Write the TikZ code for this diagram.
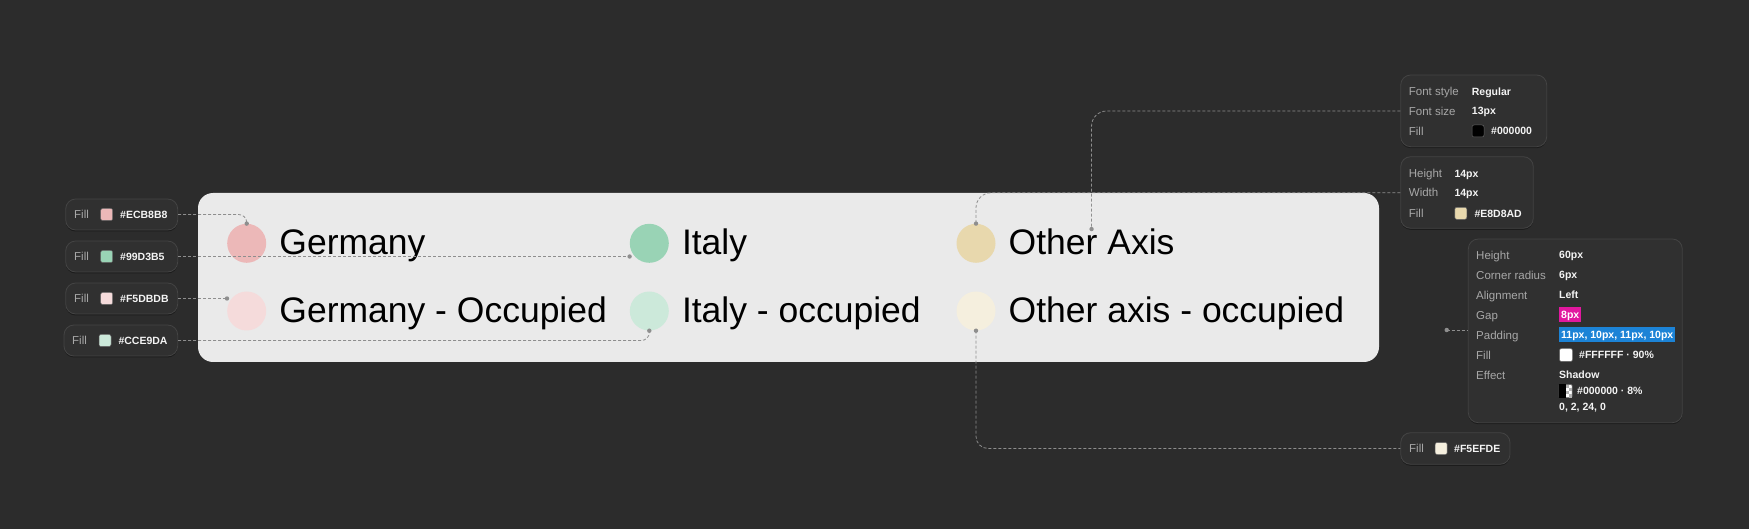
\documentclass[tikz,border=0pt]{standalone}
\usepackage{fontspec}
\setmainfont{Liberation Sans}
\usetikzlibrary{shadows}
\definecolor{bgdark}{HTML}{2C2C2C}
\definecolor{pillfill}{HTML}{303030}
\definecolor{pillline}{HTML}{444444}
\definecolor{panel}{HTML}{EAEAEA}
\definecolor{lblc}{HTML}{A8A8A8}
\definecolor{valc}{HTML}{F4F4F4}
\definecolor{dashc}{HTML}{8E8E8E}
\definecolor{ger}{HTML}{ECB8B8}
\definecolor{ita}{HTML}{99D3B5}
\definecolor{oax}{HTML}{E8D8AD}
\definecolor{gerocc}{HTML}{F5DBDB}
\definecolor{itaocc}{HTML}{CCE9DA}
\definecolor{oaxocc}{HTML}{F5EFDE}
\definecolor{gapc}{HTML}{E2189F}
\definecolor{padc}{HTML}{1C83D6}

\begin{document}
\begin{tikzpicture}[x=1pt,y=-1pt,
  pill/.style={draw=pillline,fill=pillfill,line width=0.8pt,rounded corners=10pt,inner sep=0pt,
    drop shadow={shadow xshift=0pt,shadow yshift=-1.5pt,opacity=0.35,fill=black}},
  legendbox/.style={fill=panel,rounded corners=15pt,inner sep=0pt},
  chip/.style={circle,minimum size=39pt,inner sep=0pt},
  bigtxt/.style={anchor=base west,inner sep=0pt,font=\fontsize{35.5}{40}\selectfont},
  lbl/.style={anchor=west,inner sep=0pt,text height=8.3pt,text depth=0pt,text=lblc,font=\fontsize{11.5}{14}\selectfont},
  val/.style={anchor=west,inner sep=0pt,text height=7.6pt,text depth=0pt,text=valc,font=\fontsize{10.5}{13}\selectfont\bfseries},
  hival/.style={anchor=west,inner xsep=2pt,inner ysep=3.7pt,text height=7.6pt,text depth=0pt,text=white,font=\fontsize{10.5}{13}\selectfont\bfseries},
  swatch/.style={rectangle,rounded corners=2pt,minimum size=12pt,inner sep=0pt,draw=black!60,line width=0.5pt},
  conn/.style={draw=dashc,line width=0.8pt,dash pattern=on 3pt off 2pt},
  dotfill/.style={fill=dashc}]
\fill[bgdark] (0,0) rectangle (1749,529);
\useasboundingbox (0,0) rectangle (1749,529);
% legend panel
\node[legendbox,minimum width=1181pt,minimum height=169pt] (legend) at (788.5,277.5) {};
  \node[chip,fill=ger] (gerchip) at (246.7,243.3) {};
  \node[chip,fill=ita] (itachip) at (649.3,243.3) {};
  \node[chip,fill=oax] (oaxchip) at (976,243.3) {};
  \node[chip,fill=gerocc] (geroccchip) at (246.7,311) {};
  \node[chip,fill=itaocc] (itaoccchip) at (649.3,311) {};
  \node[chip,fill=oaxocc] (oaxoccchip) at (976,311) {};
  \node[bigtxt] (gertxt) at (279.2,255) {Germany};
  \node[bigtxt] (itatxt) at (681.8,255) {Italy};
  \node[bigtxt] (oaxtxt) at (1008.5,255) {Other Axis};
  \node[bigtxt] (gerocctxt) at (279.2,322.7) {Germany - Occupied};
  \node[bigtxt] (itaocctxt) at (681.8,322.7) {Italy - occupied};
  \node[bigtxt] (oaxocctxt) at (1008.5,322.7) {Other axis - occupied};
% fill pills on the left
\node[pill,minimum width=112pt,minimum height=31pt] (fillger) at (121.7,214.5) {};
  \node[lbl] (fillgerlbl) at (74,214.5) {Fill};
  \node[swatch,fill=ger] (fillgersw) at (106.7,214.5) {};
  \node[val] (fillgerval) at (120,214.5) {\#ECB8B8};
\node[pill,minimum width=112pt,minimum height=31pt] (fillita) at (121.7,256.5) {};
  \node[lbl] (fillitalbl) at (74,256.5) {Fill};
  \node[swatch,fill=ita] (fillitasw) at (106.7,256.5) {};
  \node[val] (fillitaval) at (120,256.5) {\#99D3B5};
\node[pill,minimum width=112pt,minimum height=31pt] (fillgerocc) at (121.7,298.5) {};
  \node[lbl] (fillgerocclbl) at (74,298.5) {Fill};
  \node[swatch,fill=gerocc] (fillgeroccsw) at (106.7,298.5) {};
  \node[val] (fillgeroccval) at (120,298.5) {\#F5DBDB};
\node[pill,minimum width=113.7pt,minimum height=31pt] (fillitaocc) at (120.85,340.5) {};
  \node[lbl] (fillitaocclbl) at (72,340.5) {Fill};
  \node[swatch,fill=itaocc] (fillitaoccsw) at (105,340.5) {};
  \node[val] (fillitaoccval) at (118.3,340.5) {\#CCE9DA};
% boxes on the right
\node[pill,minimum width=146pt,minimum height=71.7pt] (fontbox) at (1473.7,110.85) {};
  \node[lbl] (fontstylelbl) at (1408.7,91.7) {Font style};
  \node[val] (fontstyleval) at (1471.7,91.7) {Regular};
  \node[lbl] (fontsizelbl) at (1408.7,111) {Font size};
  \node[val] (fontsizeval) at (1471.7,111) {13px};
  \node[lbl] (fontfilllbl) at (1408.7,131) {Fill};
  \node[swatch,fill=black] (fontfillsw) at (1478,131) {};
  \node[val] (fontfillval) at (1491,131) {\#000000};
\node[pill,minimum width=132.6pt,minimum height=71.6pt] (hwbox) at (1467,192.5) {};
  \node[lbl] (heightlbl) at (1408.7,173.3) {Height};
  \node[val] (heightval) at (1454.3,173.3) {14px};
  \node[lbl] (widthlbl) at (1408.7,192.8) {Width};
  \node[val] (widthval) at (1454.3,192.8) {14px};
  \node[lbl] (hwfilllbl) at (1408.7,213.3) {Fill};
  \node[swatch,fill=oax] (hwfillsw) at (1460.8,213.3) {};
  \node[val] (hwfillval) at (1474.3,213.3) {\#E8D8AD};
\node[pill,minimum width=214pt,minimum height=183.7pt] (stackbox) at (1575.3,330.85) {};
  \node[lbl] (sheightlbl) at (1476,255) {Height};
  \node[val] (sheightval) at (1559,255) {60px};
  \node[lbl] (radiuslbl) at (1476,275) {Corner radius};
  \node[val] (radiusval) at (1559,275) {6px};
  \node[lbl] (alignlbl) at (1476,295) {Alignment};
  \node[val] (alignval) at (1559,295) {Left};
  \node[lbl] (gaplbl) at (1476,315) {Gap};
  \node[hival,fill=gapc] (gapval) at (1559,315) {8px};
  \node[lbl] (paddinglbl) at (1476,335) {Padding};
  \node[hival,fill=padc] (paddingval) at (1559,335) {11px, 10px, 11px, 10px};
  \node[lbl] (sfilllbl) at (1476,355) {Fill};
  \node[swatch,fill=white,minimum size=13pt] (sfillsw) at (1566,355) {};
  \node[val] (sfillval) at (1579,355) {\#FFFFFF · 90\%};
  \node[lbl] (effectlbl) at (1476,375) {Effect};
  \node[val] (effectval) at (1559,375) {Shadow};
  \node[swatch,fill=white,minimum size=13pt,rounded corners=1pt] (effectsw) at (1565.5,391) {};
  \fill[black] (effectsw.north west) rectangle (effectsw.south);
  \fill[black!30] (1565.5,384.5) rectangle (1568.75,387.75);
  \fill[black!30] (1568.75,387.75) rectangle (1572,391);
  \fill[black!30] (1565.5,391) rectangle (1568.75,394.25);
  \fill[black!30] (1568.75,394.25) rectangle (1572,397.5);
  \node[val] (shadowval) at (1577,391) {\#000000 · 8\%};
  \node[val] (shadowxy) at (1559,406.7) {0, 2, 24, 0};
\node[pill,minimum width=109.3pt,minimum height=31.6pt] (filloaxocc) at (1455.35,448.5) {};
  \node[lbl] (filloaxocclbl) at (1409,448.5) {Fill};
  \node[swatch,fill=oaxocc] (filloaxoccsw) at (1441.2,448.5) {};
  \node[val] (filloaxoccval) at (1454,448.5) {\#F5EFDE};
% connectors
\draw[conn,rounded corners=8pt] (fillger.east) -| (gerchip.north);
  \fill[dotfill] (gerchip.north) circle (2.2pt);
\draw[conn] (fillita.east) -- (fillita.east -| itachip.west);
  \fill[dotfill] (fillita.east -| itachip.west) circle (2.2pt);
\draw[conn] (fillgerocc.east) -- (fillgerocc.east -| geroccchip.west);
  \fill[dotfill] (fillgerocc.east -| geroccchip.west) circle (2.2pt);
\draw[conn,rounded corners=8pt] (fillitaocc.east) -| (itaoccchip.south);
  \fill[dotfill] (itaoccchip.south) circle (2.2pt);
\draw[conn,rounded corners=15pt] (fontbox.west |- fontsizelbl) -| (oaxtxt.north);
  \fill[dotfill] (oaxtxt.north) circle (2.2pt);
\draw[conn,rounded corners=15pt] (hwbox.west |- widthlbl) -| (oaxchip.north);
  \fill[dotfill] (oaxchip.north) circle (2.2pt);
\coordinate (padpt) at (1446.7,330);
\draw[conn] (padpt) -- (padpt -| stackbox.west);
  \fill[dotfill] (padpt) circle (2.2pt);
\draw[conn,rounded corners=12pt] (oaxoccchip.south) |- (filloaxocc.west);
  \fill[dotfill] (oaxoccchip.south) circle (2.2pt);
\end{tikzpicture}
\end{document}
